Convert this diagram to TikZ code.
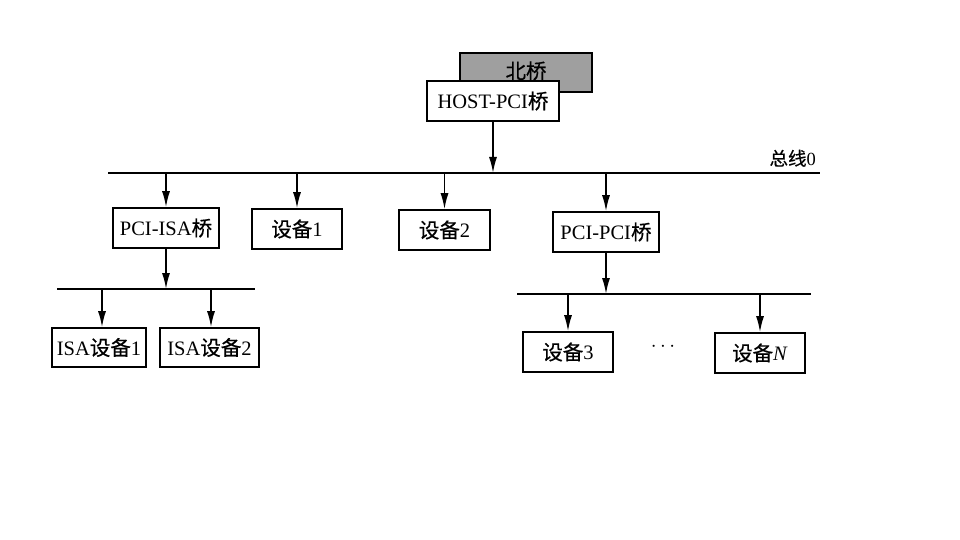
\documentclass[tikz,border=0pt]{standalone}
\usepackage{fontspec}
\setmainfont{Liberation Serif}
\newfontfamily\cjk[FakeBold=0.5]{Noto Sans CJK SC}
\usetikzlibrary{arrows.meta}
\begin{document}
\begin{tikzpicture}[x=1pt,y=-1pt,
  box/.style={draw,line width=1.6pt,fill=white,rectangle,inner sep=0pt,font=\fontsize{20.5}{22}\selectfont},
  bus/.style={line width=1.8pt},
  arr/.style={line width=1.6pt,-{Latex[length=16pt,width=8pt]}}]
\useasboundingbox (0,0) rectangle (960,540);
% north bridge (behind)
\node[box,fill=gray!75,minimum width=132pt,minimum height=39pt,anchor=center] (nb) at (526,72.5) {\raisebox{5pt}{\cjk 北桥}};
\node[box,minimum width=132pt,minimum height=40pt] (host) at (493,101) {HOST-PCI{\cjk 桥}};
% bus 0
\coordinate (b0l) at (108,173);
\coordinate (b0r) at (820,173);
\draw[bus] (b0l) -- (b0r);
\node[anchor=south east,inner sep=0pt,font=\fontsize{18.5}{20}\selectfont] (lbl) at (816,167) {{\cjk 总线}0};
% level 1 nodes
\node[box,minimum width=106pt,minimum height=40pt] (pciisa) at (166,228) {PCI-ISA{\cjk 桥}};
\node[box,minimum width=90pt,minimum height=40pt] (dev1) at (297,229) {{\cjk 设备}1};
\node[box,minimum width=91pt,minimum height=40pt] (dev2) at (444.5,230) {{\cjk 设备}2};
\node[box,minimum width=106pt,minimum height=40pt] (pcipci) at (606,232) {PCI-PCI{\cjk 桥}};
\coordinate (hb) at (host.south |- b0l);
\draw[arr] (host.south) -- (hb);
\coordinate (t1) at (pciisa.north |- b0l);
\coordinate (t2) at (dev1.north |- b0l);
\coordinate (t3) at (dev2.north |- b0l);
\coordinate (t4) at (pcipci.north |- b0l);
\draw[arr] (t1) -- (pciisa.north);
\draw[arr] (t2) -- (dev1.north);
\draw[arr] (t3) -- (dev2.north);
\draw[arr] (t4) -- (pcipci.north);
% ISA bus
\coordinate (b1l) at (57,289);
\coordinate (b1r) at (255,289);
\draw[bus] (b1l) -- (b1r);
\coordinate (b1m) at (pciisa.south |- b1l);
\draw[arr] (pciisa.south) -- (b1m);
\node[box,minimum width=94pt,minimum height=39pt] (isa1) at (99,347.5) {ISA{\cjk 设备}1};
\node[box,minimum width=99pt,minimum height=39pt] (isa2) at (209.5,347.5) {ISA{\cjk 设备}2};
\coordinate (s1) at (102,289);
\coordinate (s2) at (211,289);
\draw[arr] (s1) -- (s1 |- isa1.north);
\draw[arr] (s2) -- (s2 |- isa2.north);
% PCI bus 1
\coordinate (b2l) at (517,294);
\coordinate (b2r) at (811,294);
\draw[bus] (b2l) -- (b2r);
\coordinate (b2m) at (pcipci.south |- b2l);
\draw[arr] (pcipci.south) -- (b2m);
\node[box,minimum width=90pt,minimum height=40pt] (dev3) at (568,352) {{\cjk 设备}3};
\node[box,minimum width=90pt,minimum height=40pt] (devN) at (760,353) {{\cjk 设备}\textit{N}};
\node[inner sep=0pt,font=\fontsize{22}{24}\selectfont] (dots) at (663,347) {$\cdots$};
\coordinate (s3) at (dev3.north |- b2l);
\coordinate (s4) at (devN.north |- b2l);
\draw[arr] (s3) -- (dev3.north);
\draw[arr] (s4) -- (devN.north);
\end{tikzpicture}
\end{document}
